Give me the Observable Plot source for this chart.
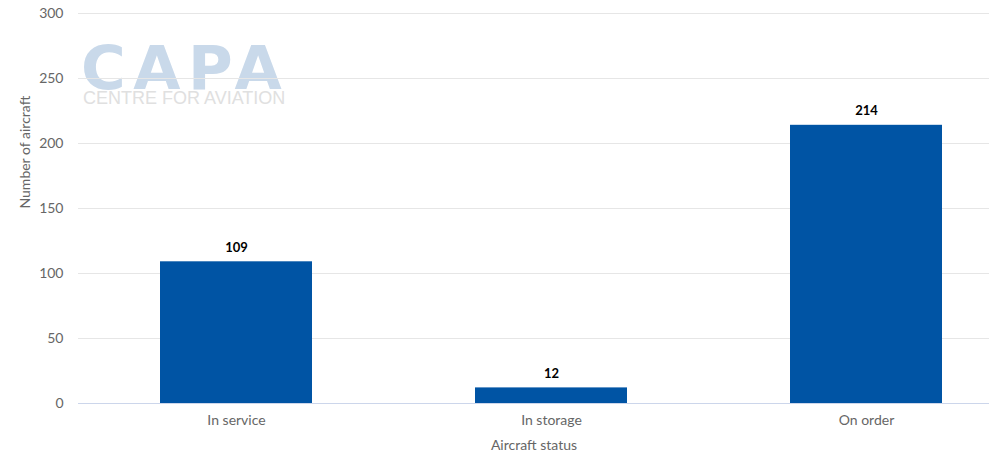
<!DOCTYPE html>
<html>
<head>
<meta charset="utf-8">
<script src="https://cdn.jsdelivr.net/npm/d3@7"></script>
<script src="https://cdn.jsdelivr.net/npm/@observablehq/plot@0.6"></script>
<style>
  html, body { margin: 0; padding: 0; background: #fff; overflow: hidden; }
  #wrap { position: relative; width: 989px; height: 463px; }
  .wm1 { position: absolute; left: 81px; top: 46px; font: bold 61px "DejaVu Sans", sans-serif; color: #c9d9ea; letter-spacing: 7.5px; line-height: 44px; }
  .wm2 { position: absolute; left: 83px; top: 91px; font: 18px "Liberation Sans", Arial, sans-serif; color: #e0e0e0; line-height: 14px; letter-spacing: 0px; }
</style>
</head>
<body>
<div id="wrap">
  <div class="wm1">CAPA</div>
  <div class="wm2">CENTRE FOR AVIATION</div>
</div>
<script>
const categories = ["In service", "In storage", "On order"];
const values = [109, 12, 214];
const yTicks = [0, 50, 100, 150, 200, 250, 300];

const data = categories.map((c, i) => ({status: c, count: values[i]}));

const chart = Plot.plot({
  width: 989,
  height: 463,
  marginLeft: 78,
  marginRight: 0,
  marginTop: 13,
  marginBottom: 60,
  style: {fontFamily: "Lato, sans-serif", fontSize: "14px", color: "#666", background: "transparent"},
  x: {domain: categories, range: [78.5, 1023.5], paddingInner: 0.517, paddingOuter: 0.2585, label: null},
  y: {domain: [0, 300], ticks: yTicks, label: null},
  marks: [
    Plot.gridY(yTicks.filter(t => t > 0), {stroke: "#e6e6e6", strokeOpacity: 1, strokeWidth: 1}),
    Plot.barY(data, {x: "status", y: "count", fill: "#0054a4"}),
    Plot.ruleY([0], {stroke: "#ccd6eb", strokeWidth: 1}),
    Plot.axisY({ticks: yTicks, tickSize: 0, tickPadding: 15, fill: "#666", fontSize: 14, label: null}),
    Plot.axisX({tickSize: 0, tickPadding: 12, fill: "#666", fontSize: 14, label: null}),
    Plot.text(data, {x: "status", y: "count", text: d => String(d.count), dy: -14, fontWeight: "bold", fontSize: 13, fill: "#000"}),
    Plot.text(["Aircraft status"], {frameAnchor: "bottom", dy: 46, fill: "#666", fontSize: 14}),
    Plot.text(["Number of aircraft"], {frameAnchor: "left", dx: -53, rotate: -90, fill: "#666", fontSize: 14})
  ]
});
chart.style.position = "absolute";
chart.style.left = "0";
chart.style.top = "0";
document.getElementById("wrap").appendChild(chart);
</script>
</body>
</html>
